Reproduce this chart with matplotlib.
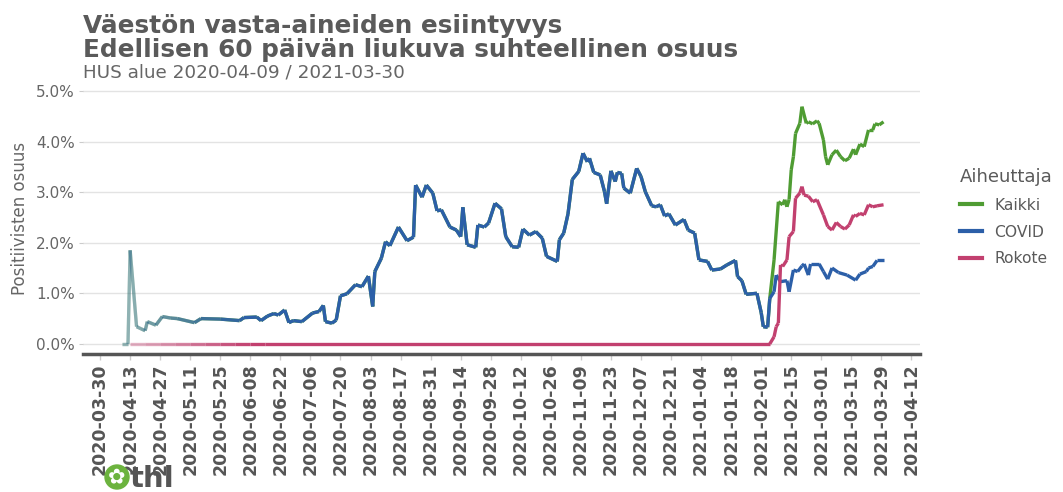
import numpy as np
import matplotlib
matplotlib.use("Agg")
import matplotlib.pyplot as plt
import matplotlib.dates as mdates
from matplotlib.collections import LineCollection
from matplotlib.lines import Line2D
from matplotlib.patches import Circle
from matplotlib.ticker import FuncFormatter

# data (percent of positive samples, 60 day moving window)
covid_dates = [
    "2020-04-09", "2020-04-12", "2020-04-13", "2020-04-16", "2020-04-18", "2020-04-20",
    "2020-04-21", "2020-04-25", "2020-04-28", "2020-05-02", "2020-05-05", "2020-05-13",
    "2020-05-16", "2020-05-25", "2020-06-03", "2020-06-05", "2020-06-11", "2020-06-13",
    "2020-06-16", "2020-06-19", "2020-06-21", "2020-06-24", "2020-06-26", "2020-06-28",
    "2020-07-02", "2020-07-07", "2020-07-10", "2020-07-12", "2020-07-13", "2020-07-16",
    "2020-07-18", "2020-07-20", "2020-07-23", "2020-07-27", "2020-07-30", "2020-08-02",
    "2020-08-04", "2020-08-05", "2020-08-08", "2020-08-10", "2020-08-12", "2020-08-16",
    "2020-08-20", "2020-08-23", "2020-08-24", "2020-08-27", "2020-08-29", "2020-09-01",
    "2020-09-03", "2020-09-05", "2020-09-09", "2020-09-12", "2020-09-14", "2020-09-15",
    "2020-09-17", "2020-09-21", "2020-09-22", "2020-09-25", "2020-09-27", "2020-09-30",
    "2020-10-03", "2020-10-05", "2020-10-08", "2020-10-11", "2020-10-13", "2020-10-16",
    "2020-10-19", "2020-10-22", "2020-10-24", "2020-10-29", "2020-10-30", "2020-11-01",
    "2020-11-03", "2020-11-05", "2020-11-08", "2020-11-10", "2020-11-12", "2020-11-13",
    "2020-11-15", "2020-11-18", "2020-11-20", "2020-11-21", "2020-11-23", "2020-11-25",
    "2020-11-26", "2020-11-28", "2020-11-29", "2020-12-02", "2020-12-05", "2020-12-07",
    "2020-12-09", "2020-12-12", "2020-12-14", "2020-12-16", "2020-12-18", "2020-12-20",
    "2020-12-23", "2020-12-27", "2020-12-29", "2021-01-01", "2021-01-03", "2021-01-07",
    "2021-01-09", "2021-01-13", "2021-01-16", "2021-01-20", "2021-01-21", "2021-01-23",
    "2021-01-25", "2021-01-30", "2021-02-01", "2021-02-02", "2021-02-04", "2021-02-05",
    "2021-02-07", "2021-02-08", "2021-02-10", "2021-02-13", "2021-02-14", "2021-02-16",
    "2021-02-18", "2021-02-20", "2021-02-21", "2021-02-23", "2021-02-24", "2021-02-28",
    "2021-03-02", "2021-03-04", "2021-03-06", "2021-03-09", "2021-03-13", "2021-03-17",
    "2021-03-19", "2021-03-22", "2021-03-23", "2021-03-25", "2021-03-27", "2021-03-30",
]
covid_vals = [
    0.00, 0.00, 1.85, 0.34, 0.30, 0.26,
    0.44, 0.37, 0.54, 0.51, 0.50, 0.42,
    0.50, 0.49, 0.46, 0.52, 0.53, 0.46,
    0.55, 0.60, 0.57, 0.67, 0.42, 0.46,
    0.44, 0.61, 0.64, 0.76, 0.44, 0.41,
    0.47, 0.95, 0.99, 1.17, 1.13, 1.34,
    0.74, 1.43, 1.69, 2.02, 1.94, 2.31,
    2.04, 2.11, 3.14, 2.90, 3.14, 2.98,
    2.63, 2.65, 2.31, 2.25, 2.12, 2.70,
    1.96, 1.91, 2.35, 2.31, 2.39, 2.78,
    2.67, 2.12, 1.92, 1.91, 2.27, 2.15,
    2.22, 2.09, 1.73, 1.63, 2.06, 2.19,
    2.57, 3.25, 3.41, 3.77, 3.60, 3.67,
    3.39, 3.34, 3.01, 2.77, 3.42, 3.21,
    3.39, 3.37, 3.08, 2.98, 3.47, 3.31,
    3.01, 2.73, 2.71, 2.75, 2.53, 2.57,
    2.35, 2.46, 2.25, 2.19, 1.66, 1.63,
    1.46, 1.48, 1.56, 1.65, 1.33, 1.25,
    0.98, 1.00, 0.62, 0.34, 0.33, 0.90,
    1.03, 1.36, 1.23, 1.25, 1.03, 1.46,
    1.43, 1.54, 1.58, 1.36, 1.58, 1.58,
    1.43, 1.28, 1.50, 1.41, 1.36, 1.26,
    1.38, 1.43, 1.50, 1.53, 1.65, 1.65,
]

# Kaikki follows COVID until vaccine results appear, these are the values after that
kaikki_dates = [
    "2021-02-07", "2021-02-09", "2021-02-11", "2021-02-12", "2021-02-13", "2021-02-14",
    "2021-02-15", "2021-02-16", "2021-02-17", "2021-02-19", "2021-02-20", "2021-02-22",
    "2021-02-23", "2021-02-25", "2021-02-27", "2021-02-28", "2021-03-02", "2021-03-03",
    "2021-03-04", "2021-03-06", "2021-03-08", "2021-03-10", "2021-03-12", "2021-03-14",
    "2021-03-16", "2021-03-17", "2021-03-19", "2021-03-21", "2021-03-23", "2021-03-25",
    "2021-03-26", "2021-03-28", "2021-03-30",
]
kaikki_vals = [
    1.66, 2.81, 2.75, 2.85, 2.71, 2.85,
    3.44, 3.70, 4.16, 4.36, 4.69, 4.36,
    4.39, 4.35, 4.41, 4.36, 4.03, 3.70,
    3.54, 3.74, 3.83, 3.70, 3.62, 3.67,
    3.85, 3.74, 3.95, 3.90, 4.23, 4.23,
    4.35, 4.33, 4.39,
]

rokote_dates = [
    "2020-04-13", "2020-04-20", "2020-04-27", "2020-05-04", "2020-05-11", "2020-05-18",
    "2020-05-25", "2020-06-01", "2020-06-08", "2020-06-15", "2021-02-05", "2021-02-07",
    "2021-02-08", "2021-02-09", "2021-02-10", "2021-02-11", "2021-02-13", "2021-02-14",
    "2021-02-16", "2021-02-17", "2021-02-19", "2021-02-20", "2021-02-21", "2021-02-23",
    "2021-02-25", "2021-02-27", "2021-03-02", "2021-03-04", "2021-03-06", "2021-03-08",
    "2021-03-10", "2021-03-12", "2021-03-14", "2021-03-16", "2021-03-17", "2021-03-19",
    "2021-03-21", "2021-03-23", "2021-03-25", "2021-03-27", "2021-03-30",
]
rokote_vals = [
    0.00, 0.00, 0.00, 0.00, 0.00, 0.00,
    0.00, 0.00, 0.00, 0.00, 0.00, 0.14,
    0.34, 0.41, 1.56, 1.53, 1.66, 2.12,
    2.22, 2.88, 2.98, 3.11, 2.94, 2.92,
    2.81, 2.85, 2.55, 2.32, 2.25, 2.40,
    2.32, 2.27, 2.35, 2.55, 2.52, 2.58,
    2.55, 2.75, 2.71, 2.73, 2.75,
]

series_names = ["Kaikki", "COVID", "Rokote"]
colors = {"Kaikki": "#4f9c33", "COVID": "#2c5fa8", "Rokote": "#c2406f"}

title1 = "Väestön vasta-aineiden esiintyvys"
title2 = "Edellisen 60 päivän liukuva suhteellinen osuus"
subtitle = "HUS alue 2020-04-09 / 2021-03-30"
y_label = "Positiivisten osuus"
legend_title = "Aiheuttaja"

# kaikki = covid until the split
split = np.datetime64("2021-02-05")
covid_d = np.array(covid_dates, dtype="datetime64[D]")
kaikki_d = np.concatenate([covid_d[covid_d <= split], np.array(kaikki_dates, dtype="datetime64[D]")])
kaikki_v = np.concatenate([np.array(covid_vals)[covid_d <= split], kaikki_vals])

series = {
    "Kaikki": (kaikki_d, kaikki_v),
    "COVID": (covid_d, np.array(covid_vals)),
    "Rokote": (np.array(rokote_dates, dtype="datetime64[D]"), np.array(rokote_vals)),
}

start = mdates.date2num(np.datetime64("2020-04-09"))

fig = plt.figure(figsize=(10.63, 4.92), dpi=100)
ax = fig.add_axes([0.078, 0.2805, 0.7875, 0.55])

for name in series_names:
    d, v = series[name]
    x = mdates.date2num(d)
    pts = np.column_stack([x, v])
    segs = np.stack([pts[:-1], pts[1:]], axis=1)
    # early values are faded (few samples in window)
    mid = (x[:-1] + x[1:]) / 2
    alpha = np.clip(0.3 + 0.7 * (mid - start) / 60.0, 0.3, 1.0)
    rgba = np.array([matplotlib.colors.to_rgba(colors[name], a) for a in alpha])
    lc = LineCollection(segs, colors=rgba, linewidths=2.4, capstyle="butt", joinstyle="round")
    ax.add_collection(lc)

ax.set_xlim(mdates.date2num(np.datetime64("2020-03-22")), mdates.date2num(np.datetime64("2021-04-16")))
ax.set_ylim(-0.2, 5.15)

xt = np.arange(np.datetime64("2020-03-30"), np.datetime64("2021-04-13"), 14)
ax.set_xticks(mdates.date2num(xt))
ax.set_xticklabels([str(t) for t in xt], rotation=90, fontsize=12.5, fontweight="bold")
ax.yaxis.set_major_formatter(FuncFormatter(lambda v, p: f"{v:.1f}%"))
ax.set_yticks([0, 1, 2, 3, 4, 5])
ax.tick_params(axis="y", labelsize=11, colors="#cccccc", labelcolor="#666666", length=3, pad=3)
ax.tick_params(axis="x", colors="#cccccc", labelcolor="#555555", length=4, width=1, pad=3)

ax.yaxis.grid(True, color="#e3e3e3", linewidth=1)
ax.set_axisbelow(True)
for s in ["top", "right", "left"]:
    ax.spines[s].set_visible(False)
ax.spines["bottom"].set_color("#555555")
ax.spines["bottom"].set_linewidth(2.5)

ax.set_ylabel(y_label, fontsize=12, color="#666666", labelpad=5)

fig.text(0.078, 0.933, title1, fontsize=17.8, fontweight="bold", color="#5a5a5a")
fig.text(0.078, 0.884, title2, fontsize=17.8, fontweight="bold", color="#5a5a5a")
fig.text(0.078, 0.842, subtitle, fontsize=13.2, color="#666666")

handles = [Line2D([0], [0], color=colors[n], lw=3) for n in series_names]
leg = fig.legend(handles, series_names, title=legend_title, loc="upper left",
                 bbox_to_anchor=(0.903, 0.658), frameon=False, fontsize=11.2,
                 title_fontsize=13, handlelength=1.4, handletextpad=0.8,
                 labelspacing=0.75, borderpad=0, borderaxespad=0, alignment="left")
for t in leg.get_texts():
    t.set_color("#5a5a5a")
leg.get_title().set_color("#5a5a5a")

# thl logo at the bottom left
logo_ax = fig.add_axes([0.0, 0.0, 1.0, 1.0], facecolor="none")
logo_ax.set_xlim(0, 1063)
logo_ax.set_ylim(0, 492)
logo_ax.axis("off")
logo_ax.add_patch(Circle((117, 15), 12, color="#6cb33e"))
logo_ax.text(117, 15, "✿", color="white", fontsize=15, ha="center", va="center")
logo_ax.text(130, 5, "thl", fontsize=21, fontweight="bold", color="#555555", va="baseline")

fig.savefig("out.png", dpi=100)
